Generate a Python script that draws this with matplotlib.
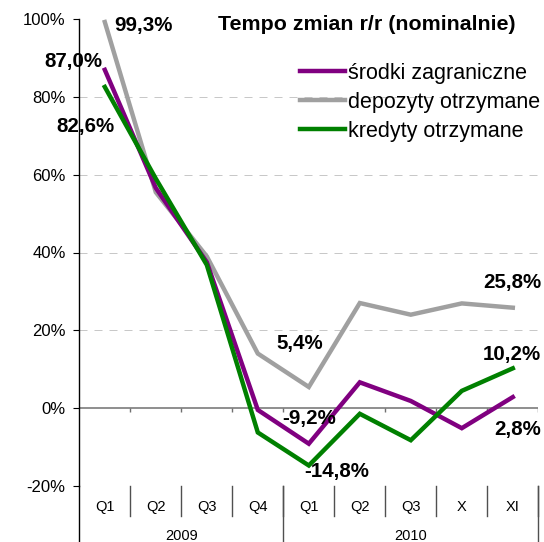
import matplotlib
matplotlib.use("Agg")
import matplotlib.pyplot as plt
import matplotlib.transforms as mtransforms
from matplotlib.lines import Line2D

plt.rcParams['font.family'] = ['Liberation Sans', 'DejaVu Sans']

# ---- data ----
categories = ["Q1", "Q2", "Q3", "Q4", "Q1", "Q2", "Q3", "X", "XI"]
years = ["2009", "2010"]
year_spans = [(0, 3), (4, 8)]
srodki = [87.0, 56.6, 37.5, -0.5, -9.2, 6.6, 1.8, -5.2, 2.8]
depozyty = [99.3, 55.5, 39.0, 14.0, 5.4, 27.0, 24.0, 26.9, 25.8]
kredyty = [82.6, 59.0, 36.8, -6.3, -14.8, -1.5, -8.3, 4.4, 10.2]
series_names = ["środki zagraniczne", "depozyty otrzymane", "kredyty otrzymane"]
yticks = [-20, 0, 20, 40, 60, 80, 100]
title = "Tempo zmian r/r (nominalnie)"

C_PURPLE = "#800080"
C_GRAY = "#A0A0A0"
C_GREEN = "#008000"

W, H = 544, 542
fig = plt.figure(figsize=(W / 100, H / 100), dpi=100)
ax = fig.add_axes([79.3 / W, 1 - 485.7 / H, (538.3 - 79.3) / W, (485.7 - 19.3) / H])

x = list(range(len(categories)))
ax.set_xlim(-0.5, len(categories) - 0.5)
ax.set_ylim(-20, 100)

# gridlines
for yv in yticks:
    if yv in (0, 100):
        continue
    ax.axhline(yv, color="#C8C8C8", lw=0.72, linestyle=(0, (8, 7)), zorder=0)
ax.axhline(0, color="#707070", lw=1.1, zorder=1)
# small ticks under the zero line at category boundaries
bounds = [i + 0.5 for i in range(len(categories))]
ax.vlines(bounds, -1.1, 0, color="#707070", lw=1.0, zorder=1)

lw = 3.2
ax.plot(x, depozyty, color=C_GRAY, lw=lw, solid_joinstyle="miter", zorder=3)
ax.plot(x, srodki, color=C_PURPLE, lw=lw, solid_joinstyle="miter", zorder=4)
ax.plot(x, kredyty, color=C_GREEN, lw=lw, solid_joinstyle="miter", zorder=5)

# spines / ticks
for s in ("top", "right", "bottom"):
    ax.spines[s].set_visible(False)
ax.spines["left"].set_color("black")
ax.spines["left"].set_linewidth(1.0)
ax.set_yticks(yticks)
ax.set_yticklabels([f"{v}%" for v in yticks], fontsize=12)
ax.tick_params(axis="y", direction="out", length=4.3, width=0.8, pad=5.5)
ax.set_xticks([])

# two-level category axis
trans = mtransforms.blended_transform_factory(ax.transData, ax.transAxes)
ah = 485.7 - 19.3
row1 = -30.3 / ah
row2 = -(542 - 485.7) / ah
for i, c in enumerate(categories):
    ax.text(i, -21.0 / ah, c, transform=trans, ha="center", va="center", fontsize=10.5)
for b in bounds:
    ax.add_line(Line2D([b, b], [0, row1], transform=trans, color="#505050", lw=1.0, clip_on=False))
for (a, b), yl in zip(year_spans, years):
    ax.text((a + b) / 2, -49.8 / ah, yl, transform=trans, ha="center", va="center", fontsize=10.5)
    ax.add_line(Line2D([b + 0.5, b + 0.5], [0, row2], transform=trans, color="#505050", lw=1.0, clip_on=False))
ax.add_line(Line2D([-0.5, -0.5], [0, row2], transform=trans, color="black", lw=1.0, clip_on=False))

# data labels
def fmt(v):
    return f"{v:.1f}%".replace(".", ",")

labels = [
    (depozyty, 0, "left", 9, -9),
    (srodki, 0, "right", -2, 3),
    (kredyty, 0, "right", 10, -44.8),
    (depozyty, 4, "right", 14, 37.7),
    (srodki, 4, "left", -26.3, 19.8),
    (kredyty, 4, "left", -4.3, -11.2),
    (depozyty, 8, "right", 28.7, 19.4),
    (kredyty, 8, "right", 28, 8.4),
    (srodki, 8, "right", 28, -37.9),
]
for ser, i, ha, dx, dy in labels:
    ax.annotate(fmt(ser[i]), xy=(i, ser[i]), xytext=(dx, dy), textcoords="offset pixels",
                ha=ha, va="baseline", fontsize=14.8, fontweight="bold", zorder=6,
                annotation_clip=False)

# title
fig.text(218 / W, 1 - 30.5 / H, title, ha="left", va="baseline", fontsize=15.4, fontweight="bold")

# legend
handles = [Line2D([], [], color=C_PURPLE, lw=lw),
           Line2D([], [], color=C_GRAY, lw=lw),
           Line2D([], [], color=C_GREEN, lw=lw)]
ax.legend(handles, series_names, loc="upper left", bbox_to_anchor=(300 / W, 1 - 63 / H),
          bbox_transform=fig.transFigure, frameon=False, fontsize=15.5, handlelength=2.1,
          handletextpad=0.12, labelspacing=0.37, borderpad=0, borderaxespad=0)

fig.savefig("out.png", dpi=100)
